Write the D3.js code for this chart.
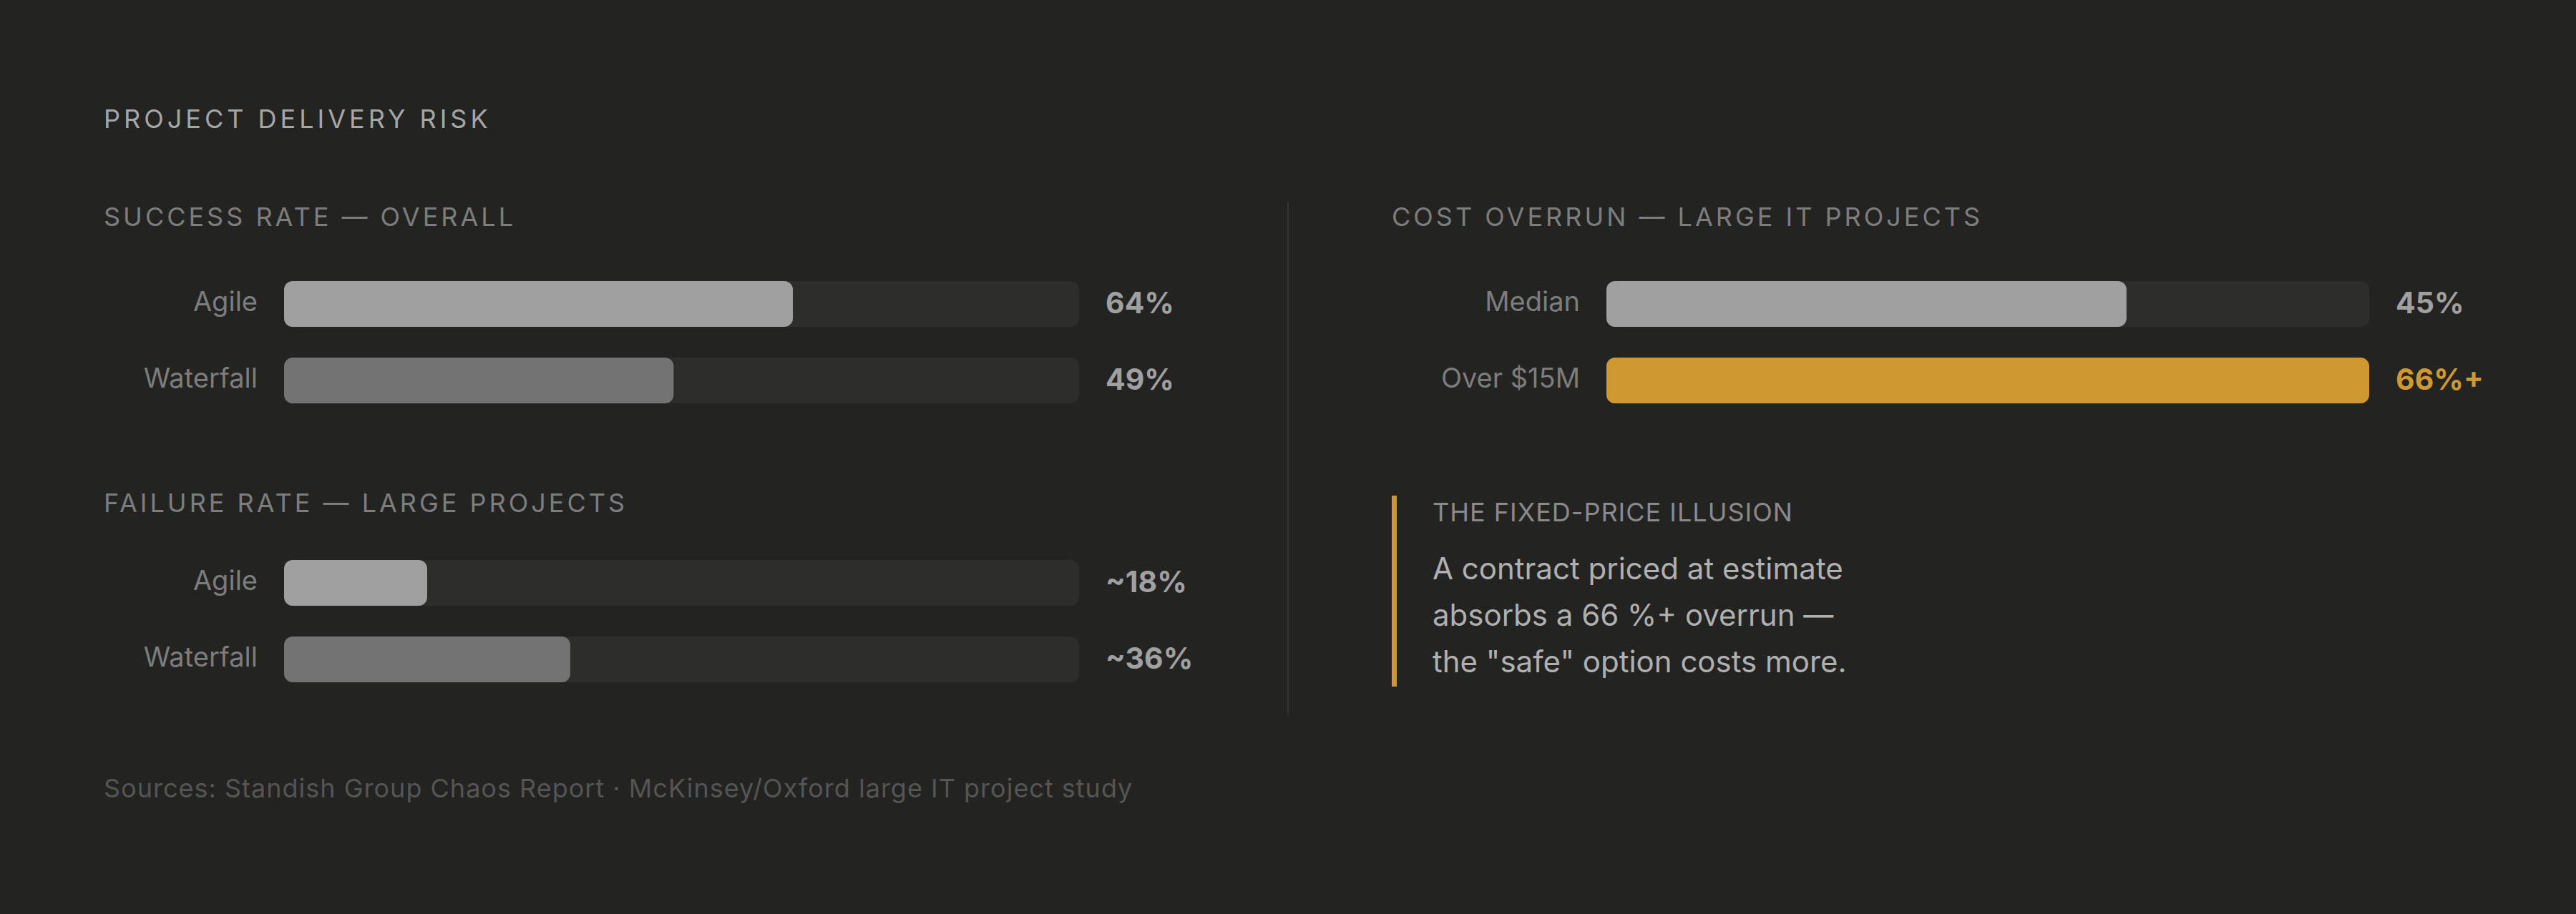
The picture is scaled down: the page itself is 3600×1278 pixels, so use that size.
<!DOCTYPE html>
<html lang="en">
<head>
<meta charset="utf-8">
<title>Project delivery risk</title>
<script src="https://d3js.org/d3.v7.min.js"></script>
<style>
  body { margin: 0; background: #232322; }
  text { font-family: Inter, "Open Sans", sans-serif; }
</style>
</head>
<body>
<div id="chart"></div>
<script>
var successLabels = ["Agile", "Waterfall"];
var successValues = [64, 49];
var successText = ["64%", "49%"];

var failureLabels = ["Agile", "Waterfall"];
var failureValues = [18, 36];
var failureText = ["~18%", "~36%"];

var costLabels = ["Median", "Over $15M"];
var costValues = [45, 66];
var costText = ["45%", "66%+"];

var calloutLines = ["A contract priced at estimate", "absorbs a 66 %+ overrun \u2014", "the \"safe\" option costs more."];

var w = 3600, h = 1278;
var svg = d3.select("#chart").append("svg").attr("width", w).attr("height", h);
svg.append("rect").attr("width", w).attr("height", h).attr("fill", "#232322");

function title(x, y, t, size, color, spacing) {
  svg.append("text").attr("x", x).attr("y", y).text(t)
    .attr("font-size", size).attr("fill", color)
    .attr("letter-spacing", spacing).attr("dominant-baseline", "middle");
}

title(145, 169, "PROJECT DELIVERY RISK", 36, "#a6a6a6", 5);
title(145, 306, "SUCCESS RATE \u2014 OVERALL", 36, "#7d7d7d", 4);
title(145, 706, "FAILURE RATE \u2014 LARGE PROJECTS", 36, "#7d7d7d", 4);
title(1945, 306, "COST OVERRUN \u2014 LARGE IT PROJECTS", 36, "#7d7d7d", 4);

function barGroup(labels, values, texts, maxV, x0, x1, yTop, colors, valColors) {
  var x = d3.scaleLinear().domain([0, maxV]).range([x0, x1]);
  var y = d3.scaleBand().domain(labels).range([yTop, yTop + 171]).paddingInner(0.402);
  var g = svg.append("g");
  var rows = g.selectAll("g").data(labels).enter().append("g");
  rows.append("rect").attr("x", x0).attr("y", function(d){ return y(d); })
    .attr("width", x1 - x0).attr("height", y.bandwidth()).attr("rx", 12).attr("fill", "#2d2d2c");
  rows.append("rect").attr("x", x0).attr("y", function(d){ return y(d); })
    .attr("width", function(d, i){ return x(values[i]) - x0; })
    .attr("height", y.bandwidth()).attr("rx", 12)
    .attr("fill", function(d, i){ return colors[i]; });
  rows.append("text").attr("x", x0 - 37).attr("y", function(d){ return y(d) + y.bandwidth() / 2; })
    .attr("text-anchor", "end").attr("dominant-baseline", "middle")
    .attr("font-size", 38).attr("fill", "#7d7d7d").text(function(d){ return d; });
  rows.append("text").attr("x", x1 + 37).attr("y", function(d){ return y(d) + y.bandwidth() / 2 + 2; })
    .attr("dominant-baseline", "middle").attr("font-size", 41).attr("font-weight", "bold")
    .attr("fill", function(d, i){ return valColors[i]; }).text(function(d, i){ return texts[i]; });
}

barGroup(successLabels, successValues, successText, 100, 397, 1508, 393, ["#a0a0a0", "#737373"], ["#a0a0a0", "#a0a0a0"]);
barGroup(failureLabels, failureValues, failureText, 100, 397, 1508, 783, ["#a0a0a0", "#737373"], ["#a0a0a0", "#a0a0a0"]);
barGroup(costLabels, costValues, costText, 66, 2245, 3311, 393, ["#a0a0a0", "#d09830"], ["#a0a0a0", "#d09830"]);

// divider
svg.append("line").attr("x1", 1800).attr("x2", 1800).attr("y1", 282).attr("y2", 999)
  .attr("stroke", "#343433").attr("stroke-width", 2);

// callout
svg.append("rect").attr("x", 1945).attr("y", 693).attr("width", 7).attr("height", 267).attr("fill", "#d09830");
title(2002, 719, "THE FIXED-PRICE ILLUSION", 36, "#8a8a8a", 1);
svg.append("g").selectAll("text").data(calloutLines).enter().append("text")
  .attr("x", 2002).attr("y", function(d, i){ return 799 + i * 65; })
  .attr("dominant-baseline", "middle").attr("font-size", 42).attr("fill", "#b0b0b0")
  .text(function(d){ return d; });

title(145, 1105, "Sources: Standish Group Chaos Report \u00b7 McKinsey/Oxford large IT project study", 36, "#555554", 1);
</script>
</body>
</html>
